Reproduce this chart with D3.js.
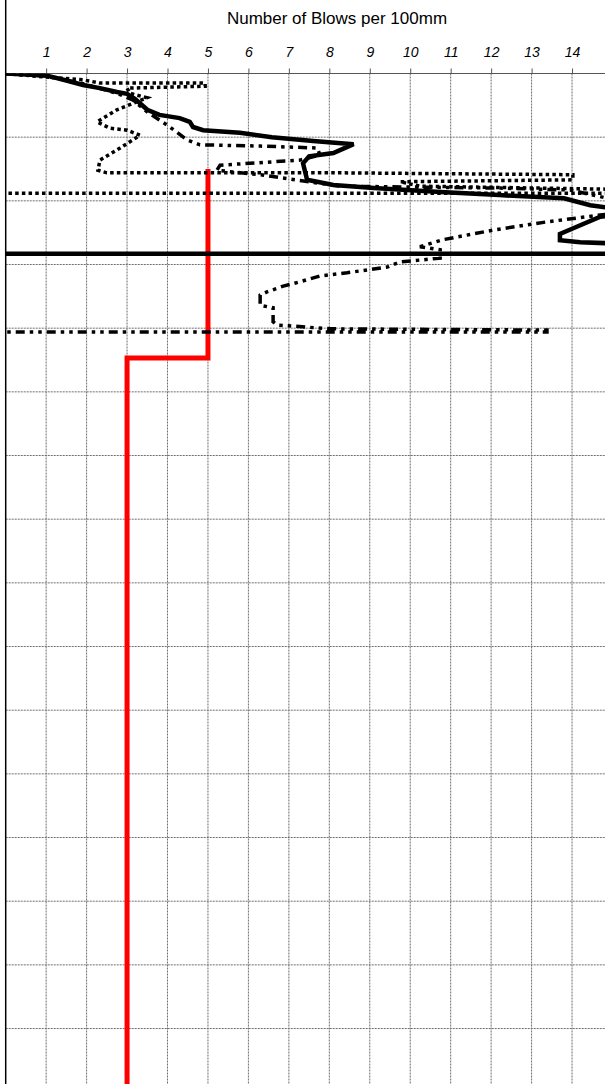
<!DOCTYPE html>
<html>
<head>
<meta charset="utf-8">
<script src="https://cdn.jsdelivr.net/npm/d3@7"></script>
<style>
html,body{margin:0;padding:0;background:#fff;}
svg{display:block;}
</style>
</head>
<body>
<script>
// ---- data ----
const xTickValues = [1,2,3,4,5,6,7,8,9,10,11,12,13,14];
const depthGrid = [100,200,300,400,500,600,700,800,900,1000,1100,1200,1300,1400,1500];
const titleText = "Number of Blows per 100mm";

// Test 1 (solid)
const solidBlows = [0,1.0,1.5,1.91,2.33,2.75,3.0,3.2,3.5,3.8,4.3,4.55,4.63,4.88,5.79,6.58,7.6,8.6,8.1,7.5,7.35,7.45,8.1,9.1,10.75,12.2,13.8,14.45,15.2,15.2,14.7,14.03,13.7,13.7,14.2,15.5,15.5,0];
const solidDepth = [0,3,11,18,23,29,32,40,57,65,70,76,84,89,93,100,106,111,125,130,141,167,175,180,186,191,196,207,213,222,225,243,252,262,265,268,283,283];

// Test 2 (round dot)
const dotBlows = [0,0.97,1.91,2.33,4.93,4.93,3.0,3.07,3.49,3.07,2.75,2.26,2.58,3.0,3.32,2.83,2.33,2.28,2.5,8.26,14.02,14.02,9.75,10.24,15.2,15.2,0];
const dotDepth = [0,5.5,10,15,15,20,23,31,38,49,57,76,86,89,97,117,136,152,156,156,159,167,170,177,182,188,188];

// Test 3 (long dash dot dot)
const dashBlows = [0,0.97,1.91,2.75,3.15,3.49,3.99,4.48,4.8,6.29,7.7,7.77,7.28,5.3,5.22,6.29,8.26,12.22,13.95,15.1,15.1,13.38,12.05,10.81,10.24,10.74,10.74,9.75,9.43,8.44,7.77,7.28,6.86,6.46,6.29,6.29,6.61,6.61,6.71,8.02,13.38,13.38,0];
const dashDepth = [0,4,16,31,42,60,81,104,112,114,117,128,136,144,152,159,177,180,183,199,219,233,246,261,272,277,290,296,304,313,318,327,334,343,348,364,368,390,395,401,403,406,406];

// Design line (red)
const designBlows = [5,5,3,3];
const designDepth = [150,447,447,1600];

// ---- chart ----
const W = 605, H = 1084;
const svg = d3.select("body").append("svg").attr("width", W).attr("height", H);

const x = d3.scaleLinear().domain([0,15]).range([5.7, 612.5]);
const y = d3.scaleLinear().domain([0,1600]).range([73.5, 1092.2]);

svg.append("defs").append("clipPath").attr("id","plot")
  .append("rect").attr("x", x(0)).attr("y", y(0)).attr("width", W - x(0)).attr("height", H - y(0));

// gridlines
const grid = svg.append("g");
grid.selectAll("line.v").data(xTickValues).join("line")
  .attr("x1", d => x(d)).attr("x2", d => x(d))
  .attr("y1", y(0)).attr("y2", H)
  .attr("stroke", "#6e6e6e").attr("stroke-width", 1).attr("stroke-dasharray", "2,1");
grid.selectAll("line.h").data(depthGrid).join("line")
  .attr("x1", x(0)).attr("x2", W)
  .attr("y1", d => y(d)).attr("y2", d => y(d))
  .attr("stroke", "#6e6e6e").attr("stroke-width", 1).attr("stroke-dasharray", "2,1");

// top axis
const axis = d3.axisTop(x).tickValues(xTickValues).tickSize(5).tickSizeOuter(0).tickFormat(d3.format("d"));
const ag = svg.append("g").attr("transform", `translate(0,${y(0)})`).call(axis);
ag.select(".domain").attr("stroke", "#555").attr("d", `M${x(0)},0H${W}`);
ag.selectAll(".tick line").attr("stroke", "#555");
ag.selectAll(".tick text").attr("font-family", "'Liberation Sans', Arial, sans-serif")
  .attr("font-size", 14).attr("font-style", "italic").attr("fill", "#000").attr("y", -17);

// title
svg.append("text").attr("x", 337).attr("y", 24).attr("text-anchor", "middle")
  .attr("font-family", "'Liberation Sans', Arial, sans-serif").attr("font-size", 17).attr("fill", "#000")
  .text(titleText);

// left border
svg.append("line").attr("x1", x(0)).attr("x2", x(0)).attr("y1", 0).attr("y2", H)
  .attr("stroke", "#000").attr("stroke-width", 1.5);

const plot = svg.append("g").attr("clip-path", "url(#plot)");
const line = d3.line().x(d => x(d[0])).y(d => y(d[1]));

// red design line
plot.append("path").datum(designBlows.map((b,i) => [b, designDepth[i]]))
  .attr("d", line).attr("fill", "none").attr("stroke", "#ff0000").attr("stroke-width", 5);

// series
plot.append("path").datum(solidBlows.map((b,i) => [b, solidDepth[i]]))
  .attr("d", line).attr("fill", "none").attr("stroke", "#000").attr("stroke-width", 4.5)
  .attr("stroke-linejoin", "miter");
plot.append("path").datum(dotBlows.map((b,i) => [b, dotDepth[i]]))
  .attr("d", line).attr("fill", "none").attr("stroke", "#000").attr("stroke-width", 3.5)
  .attr("stroke-dasharray", "3.5,3.2");
plot.append("path").datum(dashBlows.map((b,i) => [b, dashDepth[i]]))
  .attr("d", line).attr("fill", "none").attr("stroke", "#000").attr("stroke-width", 3.5)
  .attr("stroke-dasharray", "9,5,3.5,5,3.5,5");
</script>
</body>
</html>
